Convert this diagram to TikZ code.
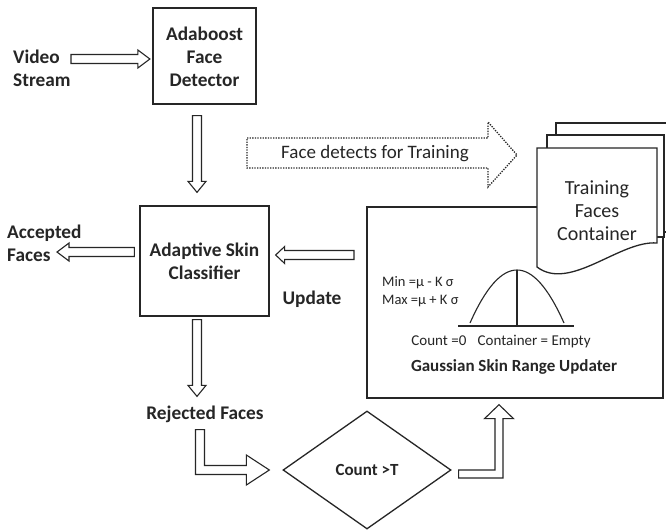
\documentclass[tikz,border=0pt]{standalone}
\usepackage{fontspec}
\setmainfont{Carlito}
\usetikzlibrary{shapes.geometric,calc}
\definecolor{ink}{HTML}{262626}
\tikzset{
  box/.style={draw=ink, line width=1.3pt, fill=white, inner sep=0pt},
  blk/.style={draw=ink, line width=1.1pt, fill=white, line join=miter},
  sheet/.style={draw=ink, line width=1.3pt, fill=white},
  bigbold/.style={text=ink, font=\bfseries\fontsize{19.3}{23}\selectfont, align=center, inner sep=0pt},
  plain/.style={text=ink, font=\fontsize{19}{23}\selectfont, align=center, inner sep=0pt},
  small/.style={text=ink, font=\fontsize{14.5}{18}\selectfont, inner sep=0pt},
}
% hollow block arrow: start, tip, head length, head half-width
\newcommand\hollowarrow[4]{%
  \path (#1); \pgfgetlastxy{\arwAx}{\arwAy}
  \path (#2); \pgfgetlastxy{\arwBx}{\arwBy}
  \pgfmathsetmacro\arwLen{veclen(\arwBx-\arwAx,\arwBy-\arwAy)}
  \pgfmathsetmacro\arwAng{atan2(\arwBy-\arwAy,\arwBx-\arwAx)}
  \pgfmathsetmacro\arwBase{\arwLen-#3}
  \draw[blk, shift={(\arwAx,\arwAy)}, rotate=\arwAng]
    (0,-4.5) -- (\arwBase,-4.5) -- (\arwBase,-#4) -- (\arwLen,0)
    -- (\arwBase,#4) -- (\arwBase,4.5) -- (0,4.5) -- cycle;
}
\begin{document}
\begin{tikzpicture}[x=1pt,y=-1pt]
\clip (0,0) rectangle (666,530);
\fill[white] (0,0) rectangle (666,530);

% main blocks
\node[box, minimum width=103pt, minimum height=96pt] (ada) at (204.5,56) {};
\node[bigbold] at (204.5,57) {Adaboost\\Face\\Detector};
\node[box, minimum width=129pt, minimum height=110pt] (cls) at (204.5,261) {};
\node[bigbold] at (204.5,261.5) {Adaptive Skin\\Classifier};

% free labels
\node[bigbold, anchor=west, align=left] (video) at (13,68.5) {Video\\Stream};
\node[bigbold, anchor=west, align=left] (acc) at (7,243) {Accepted\\Faces};
\node[bigbold] (upd) at (312,299) {Update};
\node[bigbold] (rej) at (205,414) {Rejected Faces};

% decision
\node[draw=ink, line width=1.3pt, diamond, minimum width=168pt, minimum height=118pt,
      inner sep=0pt, bigbold, font=\bfseries\fontsize{17}{20}\selectfont] (dia) at (367,470) {Count >T};

% Gaussian updater block
\node[box, minimum width=296pt, minimum height=191pt] (gbox) at (515,302.5) {};
\node[small, anchor=west, align=left] (mm) at (382,292) {Min =μ - K σ\\Max =μ + K σ};
\draw[ink, line width=1.1pt] (458,326) -- (574,326);
\draw[ink, line width=1.1pt] (517,270) -- (517,326);
\draw[ink, line width=1.1pt] (470,323) .. controls (485.7,287.7) and (501.3,270) .. (517,270)
  .. controls (532.7,270) and (548.3,287.7) .. (564,323);
\node[text=ink, font=\fontsize{15}{18}\selectfont, inner sep=0pt] (cnt) at (501,342)
  {Count =0\hspace{0.75em}Container = Empty};
\node[text=ink, font=\bfseries\fontsize{17}{20}\selectfont, inner sep=0pt] (gname) at (514,367)
  {Gaussian Skin Range Updater};

% stacked document sheets
\draw[sheet] (556,232) -- (556,123) -- (675,123) -- (675,232) -- cycle;
\draw[sheet] (547,237) -- (547,135) -- (664,135) -- (664,237) -- cycle;
\draw[sheet] (537,267) -- (537,148) -- (657,148) -- (657,243)
  .. controls (620,240) and (570,292) .. (537,267) -- cycle;
\node[plain, font=\fontsize{20}{23}\selectfont] (tfc) at (597,211) {Training\\Faces\\Container};

% dotted training arrow
\draw[ink, line width=1.3pt, dash pattern=on 1.3pt off 1.3pt, line join=miter]
  (247,138) -- (488,138) -- (488,122) -- (517,155) -- (488,187) -- (488,168) -- (247,168) -- cycle;
\node[plain] (fdt) at (375,154) {Face detects for Training};

% straight connectors
\coordinate (vs) at (71,59);
\hollowarrow{vs}{$(ada.west |- vs)+(-2.5,0)$}{12}{9}
\hollowarrow{$(ada.south)+(-7.5,11)$}{$(cls.north)+(-7.5,-13)$}{11}{9}
\hollowarrow{$(cls.west)+(-5,-9)$}{$(acc.west)+(50,9)$}{12}{9}
\coordinate (us) at (354,255);
\hollowarrow{us}{$(cls.east |- us)+(6,0)$}{9}{8.5}
\hollowarrow{$(cls.south)+(-7.5,3)$}{$(rej.north)+(-8,-9)$}{11}{9}

% bent connectors
\coordinate (rs) at ($(rej.south)+(-5,7)$);
\coordinate (rt) at ($(dia.west)+(-13,0)$);
\draw[blk] ($(rs)+(-4.5,0)$) |- ($(rt)+(-23,4.5)$) -- ++(0,10.5) -- (rt)
  -- ++(-23,-15) -- ++(0,10.5) -| ($(rs)+(4.5,0)$) -- cycle;
\coordinate (ds) at ($(dia.east)+(7,4)$);
\coordinate (dt) at ($(gbox.south)+(-16,6)$);
\draw[blk] ($(ds)+(0,4)$) -| ($(dt)+(4,14)$) -- ++(10.5,0) -- (dt)
  -- ++(-14.5,14) -- ++(10.5,0) |- ($(ds)+(0,-4)$) -- cycle;
\end{tikzpicture}
\end{document}
